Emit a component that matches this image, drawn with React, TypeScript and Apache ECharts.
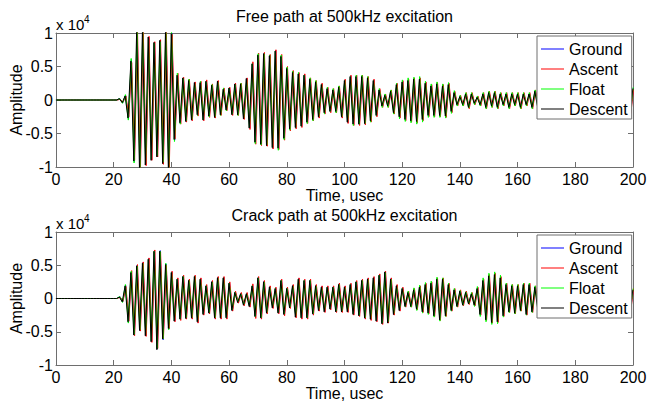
import React, { useEffect, useRef } from "react";
import * as echarts from "echarts";

// ---------- data ----------
const SERIES_NAMES = ["Ground", "Ascent", "Float", "Descent"];
const SERIES_COLORS = ["#0000ff", "#ff0000", "#00ff00", "#000000"];
// small arrival-time differences between the flight phases (usec)
const ARRIVAL_SHIFT_US = [0.14, 0.24, 0.06, -0.04];
const SAMPLE_STEP_US = 1; // one sample per usec (half a period at 500 kHz)
const X_MIN = 0;
const X_MAX = 200;
const X_STEP = 20;
const Y_MIN = -1;
const Y_MAX = 1;
const Y_STEP = 0.5;
const PLOT_TITLES = ["Free path at 500kHz excitation", "Crack path at 500kHz excitation"];
const X_LABEL = "Time, usec";
const Y_LABEL = "Amplitude";

// samples in units of 0.01 x 10^4, t = 0..200 usec
const FREE_GROUND = [
  0, 0, 0, 0, 0, 0, 0, 0, 0, 0,
  0, 0, 0, 0, 0, 0, 0, 0, 0, 0,
  0, 0, 2, -4, 7, -28, 60, -92, 105, -108,
  104, -96, 93, -89, 86, -84, 88, -94, 102, -106,
  100, -60, 38, -35, 33, -32, 30, -30, 26, -22,
  27, -30, 28, -24, 22, -26, 28, -22, 17, -15,
  18, -22, 24, -22, 24, -28, 32, -42, 55, -64,
  68, -66, 70, -68, 66, -72, 74, -73, 66, -58,
  48, -44, 42, -42, 40, -40, 38, -34, 32, -30,
  28, -26, 24, -20, 18, -18, 16, -18, 20, -26,
  30, -34, 36, -37, 36, -37, 36, -36, 34, -32,
  30, -24, 16, -10, 8, -10, 14, -20, 24, -26,
  28, -30, 30, -32, 32, -33, 32, -30, 26, -24,
  22, -24, 25, -24, 22, -25, 24, -18, 12, -8,
  6, -8, 10, -12, 10, -6, 5, -8, 10, -12,
  12, -10, 12, -12, 10, -8, 10, -12, 10, -8,
  10, -12, 10, -8, 10, -12, 14, -12, 10, -12,
  14, -12, 10, -12, 14, -16, 14, -12, 10, -12,
  14, -12, 10, -12, 14, -16, 14, -12, 14, -16,
  14, -12, 10, -12, 14, -16, 18, -16, 18, -20,
  18,
];
const FREE_ASCENT = [
  0, 0, 0, 0, 0, 0, 0, 0, 0, 0,
  0, 0, 0, 0, 0, 0, 0, 0, 0, 0,
  0, 0, 1, -3, 6, -25, 56, -90, 106, -110,
  106, -98, 95, -90, 87, -85, 90, -96, 104, -108,
  98, -58, 40, -36, 34, -33, 31, -31, 27, -24,
  28, -31, 30, -26, 24, -27, 29, -23, 18, -16,
  19, -23, 25, -23, 25, -29, 33, -44, 57, -66,
  70, -68, 71, -69, 68, -73, 75, -74, 68, -60,
  50, -46, 44, -43, 41, -41, 39, -35, 33, -31,
  29, -27, 25, -21, 19, -19, 17, -19, 21, -27,
  31, -35, 37, -38, 37, -38, 37, -37, 35, -33,
  31, -25, 17, -11, 9, -11, 15, -21, 25, -27,
  29, -31, 31, -33, 33, -34, 33, -31, 27, -25,
  23, -25, 26, -25, 23, -26, 25, -19, 13, -9,
  7, -9, 11, -13, 11, -7, 6, -9, 11, -13,
  13, -11, 13, -13, 11, -9, 11, -13, 11, -9,
  11, -13, 11, -9, 11, -13, 15, -13, 11, -13,
  13, -12, 11, -12, 15, -16, 13, -12, 11, -12,
  14, -12, 11, -13, 14, -16, 15, -12, 14, -16,
  13, -12, 11, -13, 13, -16, 18, -16, 18, -20,
  17,
];
const FREE_FLOAT = [
  0, 0, 0, 0, 0, 0, 0, 0, 0, 0,
  0, 0, 0, 0, 0, 0, 0, 0, 0, 0,
  0, 0, 2, -5, 8, -30, 62, -94, 106, -107,
  103, -95, 92, -88, 85, -83, 87, -93, 101, -105,
  102, -62, 40, -36, 32, -31, 31, -29, 25, -23,
  28, -29, 27, -25, 23, -25, 27, -23, 18, -16,
  17, -21, 23, -23, 25, -27, 31, -41, 54, -65,
  69, -67, 69, -67, 67, -71, 73, -75, 67, -59,
  49, -45, 43, -41, 41, -39, 37, -35, 33, -31,
  29, -25, 23, -21, 19, -17, 17, -19, 21, -25,
  29, -33, 35, -38, 37, -36, 37, -35, 35, -33,
  29, -23, 17, -11, 9, -11, 15, -21, 25, -28,
  30, -32, 33, -34, 34, -36, 35, -33, 28, -26,
  24, -26, 27, -26, 24, -27, 26, -20, 14, -9,
  7, -9, 11, -12, 11, -7, 6, -9, 11, -13,
  13, -11, 13, -13, 11, -9, 11, -13, 11, -9,
  11, -13, 11, -9, 11, -13, 15, -13, 11, -13,
  15, -13, 11, -13, 15, -17, 15, -13, 11, -13,
  15, -13, 11, -13, 15, -17, 15, -13, 15, -17,
  15, -13, 11, -13, 15, -17, 19, -17, 19, -21,
  19,
];
const FREE_DESCENT = [
  0, 0, 0, 0, 0, 0, 0, 0, 0, 0,
  0, 0, 0, 0, 0, 0, 0, 0, 0, 0,
  0, 0, 2, -4, 6, -27, 58, -91, 104, -108,
  105, -97, 94, -90, 86, -85, 89, -95, 103, -107,
  99, -59, 37, -34, 33, -32, 29, -30, 26, -22,
  26, -30, 28, -24, 22, -26, 28, -22, 16, -15,
  18, -22, 24, -22, 24, -28, 32, -42, 54, -63,
  67, -66, 69, -68, 66, -71, 73, -72, 65, -57,
  47, -43, 41, -41, 39, -39, 37, -33, 31, -29,
  27, -25, 23, -19, 17, -17, 15, -17, 19, -25,
  29, -33, 35, -36, 35, -36, 35, -35, 33, -31,
  29, -23, 15, -9, 7, -9, 13, -19, 23, -25,
  27, -29, 29, -31, 31, -32, 31, -29, 25, -23,
  21, -23, 24, -23, 21, -24, 23, -17, 11, -7,
  5, -7, 9, -11, 9, -5, 4, -7, 9, -11,
  11, -9, 11, -11, 9, -7, 9, -11, 9, -7,
  9, -11, 9, -7, 9, -11, 13, -11, 9, -11,
  13, -11, 9, -11, 13, -15, 13, -11, 9, -11,
  13, -11, 9, -11, 13, -15, 13, -11, 13, -15,
  13, -11, 9, -11, 13, -15, 17, -15, 17, -19,
  17,
];

const CRACK_GROUND = [
  0, 0, 0, 0, 0, 0, 0, 0, 0, 0,
  0, 0, 0, 0, 0, 0, 0, 0, 0, 0,
  0, 0, 3, -5, 20, -36, 40, -55, 50, -48,
  54, -56, 60, -64, 72, -76, 72, -62, 52, -46,
  40, -34, 30, -32, 34, -30, 28, -30, 34, -36,
  30, -24, 20, -22, 26, -30, 32, -30, 32, -30,
  24, -18, 10, -6, 8, -10, 8, -12, 20, -28,
  32, -30, 26, -22, 18, -14, 16, -22, 28, -24,
  16, -14, 20, -28, 30, -30, 28, -30, 28, -24,
  20, -18, 18, -20, 18, -16, 18, -20, 22, -20,
  18, -20, 22, -24, 26, -26, 28, -30, 30, -32,
  32, -34, 36, -38, 40, -36, 30, -24, 20, -18,
  16, -12, 10, -12, 14, -16, 18, -20, 22, -22,
  24, -26, 30, -32, 30, -26, 22, -18, 14, -12,
  12, -10, 10, -8, 8, -10, 16, -24, 28, -32,
  35, -36, 37, -35, 32, -26, 22, -20, 20, -22,
  20, -18, 22, -24, 22, -20, 18, -16, 14, -16,
  18, -16, 14, -16, 18, -20, 18, -16, 14, -16,
  18, -20, 18, -16, 14, -16, 18, -20, 18, -16,
  14, -16, 18, -20, 18, -16, 14, -16, 18, -16,
  14,
];
const CRACK_ASCENT = [
  0, 0, 0, 0, 0, 0, 0, 0, 0, 0,
  0, 0, 0, 0, 0, 0, 0, 0, 0, 0,
  0, 0, 2, -4, 18, -34, 42, -56, 51, -49,
  55, -57, 61, -66, 73, -75, 70, -60, 50, -45,
  41, -35, 31, -33, 35, -31, 29, -31, 35, -37,
  31, -25, 21, -23, 27, -31, 33, -31, 33, -31,
  25, -19, 11, -7, 9, -11, 9, -13, 22, -30,
  33, -31, 27, -23, 19, -15, 17, -23, 29, -26,
  17, -15, 21, -29, 31, -31, 29, -31, 29, -25,
  21, -19, 19, -21, 19, -17, 19, -21, 23, -21,
  19, -21, 23, -25, 27, -27, 29, -31, 31, -33,
  33, -35, 37, -39, 41, -37, 31, -25, 21, -19,
  17, -13, 11, -13, 15, -17, 19, -21, 23, -23,
  25, -27, 31, -33, 31, -27, 23, -19, 15, -13,
  13, -11, 11, -9, 9, -11, 17, -25, 29, -33,
  36, -37, 38, -36, 33, -27, 23, -21, 21, -23,
  21, -19, 23, -25, 23, -21, 19, -17, 15, -17,
  17, -15, 15, -17, 17, -19, 19, -17, 15, -15,
  17, -19, 19, -17, 15, -15, 17, -19, 19, -17,
  15, -15, 17, -19, 19, -17, 15, -15, 17, -17,
  15,
];
const CRACK_FLOAT = [
  0, 0, 0, 0, 0, 0, 0, 0, 0, 0,
  0, 0, 0, 0, 0, 0, 0, 0, 0, 0,
  0, 0, 3, -6, 21, -37, 41, -54, 49, -47,
  53, -55, 59, -63, 71, -75, 71, -61, 53, -47,
  39, -33, 29, -31, 33, -29, 27, -29, 33, -35,
  29, -23, 19, -21, 25, -29, 31, -29, 31, -29,
  23, -17, 9, -5, 7, -9, 7, -11, 19, -27,
  31, -29, 25, -21, 17, -13, 15, -21, 27, -23,
  15, -13, 19, -27, 29, -29, 27, -29, 27, -23,
  19, -17, 17, -19, 17, -15, 17, -19, 21, -19,
  17, -19, 21, -23, 25, -25, 27, -29, 29, -31,
  31, -33, 35, -37, 39, -35, 29, -23, 19, -17,
  15, -12, 11, -13, 16, -18, 20, -22, 24, -24,
  26, -28, 32, -34, 31, -27, 23, -19, 15, -12,
  12, -10, 10, -8, 9, -12, 18, -27, 31, -35,
  38, -39, 40, -38, 35, -28, 23, -21, 21, -23,
  21, -19, 23, -25, 23, -21, 19, -17, 15, -17,
  19, -17, 15, -17, 19, -21, 19, -17, 15, -17,
  19, -21, 19, -17, 15, -17, 19, -21, 19, -17,
  15, -17, 19, -21, 19, -17, 15, -17, 19, -17,
  15,
];
const CRACK_DESCENT = [
  0, 0, 0, 0, 0, 0, 0, 0, 0, 0,
  0, 0, 0, 0, 0, 0, 0, 0, 0, 0,
  0, 0, 2, -5, 19, -35, 39, -55, 49, -48,
  53, -56, 59, -65, 71, -77, 71, -61, 51, -45,
  39, -34, 29, -31, 33, -30, 27, -29, 33, -35,
  29, -24, 19, -22, 25, -29, 31, -29, 31, -29,
  23, -18, 9, -6, 7, -10, 7, -12, 19, -27,
  31, -29, 25, -22, 17, -14, 15, -22, 27, -24,
  15, -14, 19, -28, 29, -29, 27, -29, 27, -23,
  19, -18, 17, -20, 17, -16, 17, -20, 21, -20,
  17, -20, 21, -24, 25, -26, 27, -29, 29, -31,
  31, -34, 35, -38, 40, -37, 29, -24, 19, -18,
  15, -12, 9, -12, 13, -16, 17, -20, 21, -22,
  23, -26, 29, -32, 29, -26, 21, -18, 13, -12,
  11, -10, 9, -8, 7, -10, 15, -24, 27, -32,
  34, -36, 36, -35, 31, -26, 21, -20, 19, -22,
  19, -18, 21, -24, 21, -20, 17, -16, 13, -16,
  17, -16, 13, -16, 17, -20, 17, -16, 13, -16,
  17, -20, 17, -16, 13, -16, 17, -20, 17, -16,
  13, -16, 17, -20, 17, -16, 13, -16, 17, -16,
  13,
];

const FREE_PATH = [FREE_GROUND, FREE_ASCENT, FREE_FLOAT, FREE_DESCENT];
const CRACK_PATH = [CRACK_GROUND, CRACK_ASCENT, CRACK_FLOAT, CRACK_DESCENT];
const PLOTS = [FREE_PATH, CRACK_PATH];

// ---------- styling ----------
const FONT = '"Liberation Sans", Arial, Helvetica, sans-serif';
const FRAME = "#6e6e6e";
const GRIDS = [
  { left: 56, top: 33, width: 577, height: 134 },
  { left: 56, top: 232, width: 577, height: 133 },
];

export default function App() {
  const ref = useRef<HTMLDivElement>(null);

  useEffect(() => {
    if (!ref.current) return;
    const chart = echarts.init(ref.current, undefined, { renderer: "svg" });

    const xAxes: any[] = [];
    const yAxes: any[] = [];
    const series: any[] = [];
    const graphics: any[] = [];
    const legends: any[] = [];

    GRIDS.forEach((g, gi) => {
      const tick = { show: true, inside: true, length: 5, lineStyle: { color: FRAME, width: 1 } };
      const line = { show: true, onZero: false, lineStyle: { color: FRAME, width: 1 } };
      xAxes.push({
        type: "value", gridIndex: gi, position: "bottom",
        min: X_MIN, max: X_MAX, interval: X_STEP,
        axisLine: line, axisTick: tick, splitLine: { show: false },
        axisLabel: { show: true, fontSize: 16, color: "#000", fontFamily: FONT, margin: 4 },
        name: X_LABEL, nameLocation: "middle", nameGap: 19,
        nameTextStyle: { fontSize: 16, color: "#000", fontFamily: FONT },
      });
      xAxes.push({
        type: "value", gridIndex: gi, position: "top",
        min: X_MIN, max: X_MAX, interval: X_STEP,
        axisLine: line, axisTick: tick, splitLine: { show: false },
        axisLabel: { show: false },
      });
      yAxes.push({
        type: "value", gridIndex: gi, position: "left",
        min: Y_MIN, max: Y_MAX, interval: Y_STEP,
        axisLine: line, axisTick: tick, splitLine: { show: false },
        axisLabel: {
          show: true, fontSize: 16, color: "#000", fontFamily: FONT, margin: 3,
          formatter: (v: number) => String(v),
        },
      });
      yAxes.push({
        type: "value", gridIndex: gi, position: "right",
        min: Y_MIN, max: Y_MAX, interval: Y_STEP,
        axisLine: line, axisTick: tick, splitLine: { show: false },
        axisLabel: { show: false },
      });

      PLOTS[gi].forEach((vals, si) => {
        const shift = ARRIVAL_SHIFT_US[si];
        series.push({
          type: "line",
          name: SERIES_NAMES[si],
          xAxisIndex: gi * 2,
          yAxisIndex: gi * 2,
          data: vals.map((v, i) => [i * SAMPLE_STEP_US + shift, v / 100]),
          showSymbol: false,
          symbol: "none",
          silent: true,
          clip: true,
          color: SERIES_COLORS[si],
          lineStyle: { color: SERIES_COLORS[si], width: 1 },
          z: 2 + si * 0.01,
        });
      });

      const cx = g.left + g.width / 2;
      graphics.push({
        type: "text", x: cx, y: g.top - 17,
        style: {
          text: PLOT_TITLES[gi], fill: "#000", font: `16px ${FONT}`,
          textAlign: "center", align: "center", textVerticalAlign: "middle", verticalAlign: "middle",
        },
      });
      graphics.push({
        type: "text", x: 16, y: g.top + g.height / 2, rotation: Math.PI / 2,
        style: {
          text: Y_LABEL, fill: "#000", font: `16px ${FONT}`,
          textAlign: "center", align: "center", textVerticalAlign: "middle", verticalAlign: "middle",
        },
      });
      graphics.push({
        type: "text", x: g.left, y: g.top - 9,
        style: {
          text: "x 10", fill: "#000", font: `15px ${FONT}`,
          textAlign: "left", align: "left", textVerticalAlign: "middle", verticalAlign: "middle",
        },
      });
      graphics.push({
        type: "text", x: g.left + 28, y: g.top - 13.5,
        style: {
          text: "4", fill: "#000", font: `10px ${FONT}`,
          textAlign: "left", align: "left", textVerticalAlign: "middle", verticalAlign: "middle",
        },
      });

      legends.push({
        show: true,
        orient: "vertical",
        left: 537,
        top: gi === 0 ? 36 : 235,
        data: SERIES_NAMES,
        selectedMode: false,
        icon: "rect",
        itemWidth: 23,
        itemHeight: 1,
        itemGap: 0,
        padding: [3, 4, 0, 4],
        backgroundColor: "#ffffff",
        borderColor: FRAME,
        borderWidth: 1,
        borderRadius: 0,
        textStyle: { fontSize: 16, color: "#000", fontFamily: FONT, lineHeight: 20 },
        z: 10,
      });
    });

    chart.setOption({
      animation: false,
      backgroundColor: "#ffffff",
      textStyle: { fontFamily: FONT },
      grid: GRIDS.map((g) => ({ ...g, show: false, containLabel: false, outerBoundsMode: "none" })),
      xAxis: xAxes,
      yAxis: yAxes,
      legend: legends,
      series,
      graphic: graphics,
    });

    return () => chart.dispose();
  }, []);

  return (
    <div
      ref={ref}
      style={{ position: "fixed", left: 0, top: 0, width: 647, height: 402, background: "#fff" }}
    />
  );
}
